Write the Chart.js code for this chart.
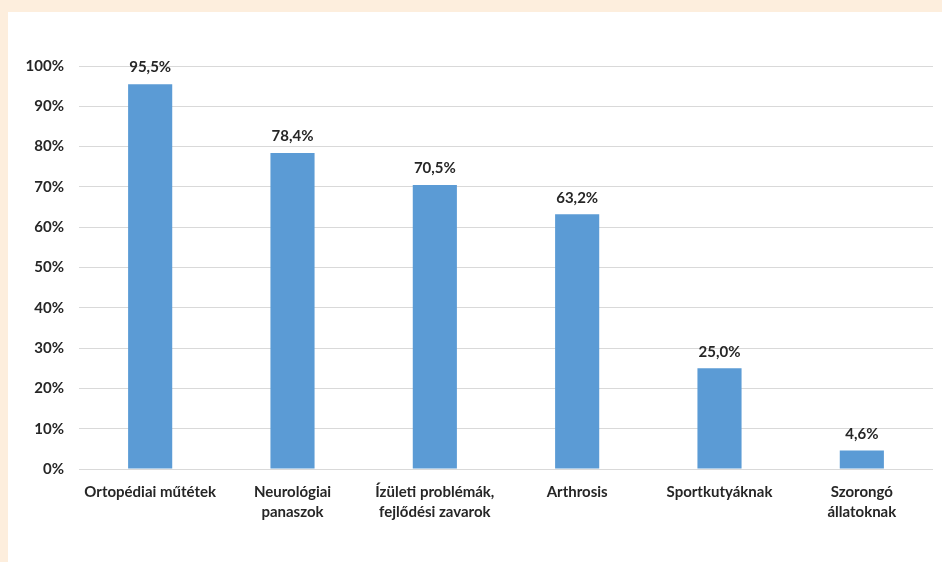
<!DOCTYPE html>
<html>
<head>
<meta charset="utf-8">
<script src="https://cdn.jsdelivr.net/npm/chart.js@4"></script>
<style>
  html, body { margin: 0; padding: 0; }
  body { width: 942px; height: 562px; background: #fdeedd; overflow: hidden; }
  .card { position: absolute; left: 8px; top: 12px; width: 934px; height: 550px; background: #fff; }
</style>
</head>
<body>
<div class="card"><canvas id="chart" width="934" height="550"></canvas></div>
<script>
const categories = [
  "Ortopédiai műtétek",
  ["Neurológiai", "panaszok"],
  ["Ízületi problémák,", "fejlődési zavarok"],
  "Arthrosis",
  "Sportkutyáknak",
  ["Szorongó", "állatoknak"]
];
const percentages = [95.5, 78.4, 70.5, 63.2, 25.0, 4.6];
const yTicks = [0, 10, 20, 30, 40, 50, 60, 70, 80, 90, 100];

const font = { family: "Lato, 'Liberation Sans', sans-serif", size: 15, weight: "bold", lineHeight: 1.35 };
const textColor = "#262626";

// value labels above each bar, Hungarian decimal comma
const valueLabels = {
  id: "valueLabels",
  afterDatasetsDraw(chart) {
    const ctx = chart.ctx;
    const meta = chart.getDatasetMeta(0);
    ctx.save();
    ctx.font = "bold 15px Lato, sans-serif";
    ctx.fillStyle = textColor;
    ctx.textAlign = "center";
    ctx.textBaseline = "bottom";
    meta.data.forEach((bar, i) => {
      const txt = percentages[i].toFixed(1).replace(".", ",") + "%";
      ctx.fillText(txt, bar.x, bar.y - 9);
    });
    ctx.restore();
  }
};

new Chart(document.getElementById("chart"), {
  type: "bar",
  data: {
    labels: categories,
    datasets: [{
      data: percentages,
      backgroundColor: "#5b9bd5",
      barPercentage: 0.31,
      categoryPercentage: 1
    }]
  },
  options: {
    responsive: false,
    animation: false,
    layout: { padding: { top: 54, right: 9, left: 0, bottom: 0 } },
    plugins: { legend: { display: false }, tooltip: { enabled: false } },
    scales: {
      x: {
        grid: { display: false, drawTicks: false },
        border: { display: false },
        ticks: { color: textColor, font: font, padding: 13, maxRotation: 0, autoSkip: false },
        afterFit(scale) { scale.height = 93; }
      },
      y: {
        min: 0,
        max: 100,
        afterBuildTicks(scale) { scale.ticks = yTicks.map(v => ({ value: v })); },
        grid: { color: "#d9d9d9", lineWidth: 1, drawTicks: false },
        border: { display: false },
        ticks: { color: textColor, font: font, padding: 15, callback: v => v + "%" },
        afterFit(scale) { scale.width = 71; }
      }
    }
  },
  plugins: [valueLabels]
});
</script>
</body>
</html>
